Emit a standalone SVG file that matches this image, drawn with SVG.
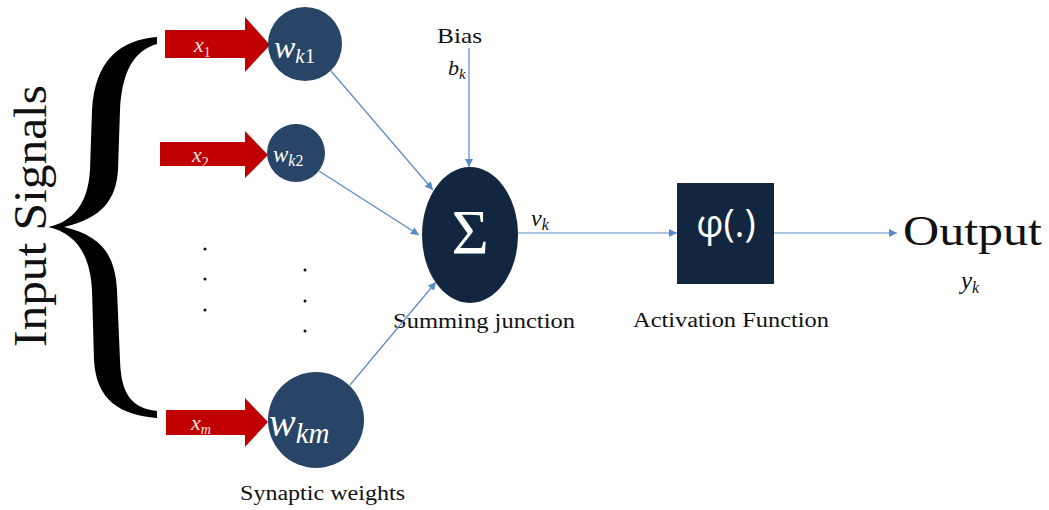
<svg xmlns="http://www.w3.org/2000/svg" width="1049" height="510" viewBox="0 0 1049 510">
  <style>
    .serif { font-family: "Liberation Serif", "DejaVu Serif", serif; fill: #111; }
    .math { font-family: "Liberation Serif", "DejaVu Serif", serif; font-style: italic; }
    .up { font-style: normal; }
    .weight { fill: #284466; }
    .dark { fill: #13263f; }
    .signal { fill: #c00000; }
    .link { stroke: #5a8ac6; stroke-width: 1.2; fill: none; marker-end: url(#tip); }
    .dot { fill: #111; }
  </style>
  <defs>
    <marker id="tip" viewBox="0 0 10 10" refX="10" refY="5" markerWidth="8" markerHeight="8" markerUnits="userSpaceOnUse" orient="auto">
      <path d="M0,0 L10,5 L0,10 Z" fill="#5a8ac6"/>
    </marker>
  </defs>
  <rect width="1049" height="510" fill="#fff"/>

  <!-- input label and brace -->
  <g id="input-signals">
    <text class="serif" font-size="46" text-anchor="middle" transform="translate(46,216) rotate(-90)" textLength="262" lengthAdjust="spacingAndGlyphs">Input Signals</text>
    <path fill="#000" d="M157,37 C120,40 95,60 92,110 L90,170 C88,205 72,222 48,227 C72,232 90,250 92,290 L94,360 C96,400 120,415 157,418 L157,411 C132,408 121,395 120,360 L117,290 C115,255 102,236 64,227 C102,218 116,200 118,170 L120,110 C122,70 135,50 157,44 Z"/>
  </g>

  <!-- input arrows -->
  <g id="x1">
    <path class="signal" d="M165,30 L245,30 L245,17 L270,45 L245,72 L245,58 L165,58 Z"/>
    <text class="math" fill="#fbe3e3" font-size="22" x="194" y="52">x<tspan class="up" font-size="14" dy="5">1</tspan></text>
  </g>
  <g id="x2">
    <path class="signal" d="M160,142 L245,142 L245,131 L268,155 L245,178 L245,166 L160,166 Z"/>
    <text class="math" fill="#fbe3e3" font-size="22" x="192" y="162">x<tspan class="up" font-size="14" dy="5">2</tspan></text>
  </g>
  <g id="xm">
    <path class="signal" d="M166,410 L245,410 L245,398 L268,422 L245,447 L245,435 L166,435 Z"/>
    <text class="math" fill="#fbe3e3" font-size="22" x="191" y="430">x<tspan font-size="14" dy="4">m</tspan></text>
  </g>

  <!-- synaptic weights -->
  <g id="wk1">
    <circle class="weight" cx="305" cy="44" r="37"/>
    <text class="math" fill="#fff" font-size="32" x="274" y="58">w<tspan font-size="21" dy="5">k</tspan><tspan class="up" font-size="21">1</tspan></text>
  </g>
  <g id="wk2">
    <circle class="weight" cx="296" cy="153" r="29"/>
    <text class="math" fill="#fff" font-size="23" x="273" y="162">w<tspan font-size="16" dy="4">k</tspan><tspan class="up" font-size="16">2</tspan></text>
  </g>
  <g id="wkm">
    <circle class="weight" cx="316" cy="420" r="48"/>
    <text class="math" fill="#fff" font-size="40" x="269" y="436">w<tspan font-size="29" dy="7">km</tspan></text>
  </g>

  <!-- ellipsis dots -->
  <g id="dots">
    <circle class="dot" cx="205" cy="249" r="1.5"/>
    <circle class="dot" cx="205" cy="279" r="1.5"/>
    <circle class="dot" cx="205" cy="310" r="1.5"/>
    <circle class="dot" cx="305" cy="270" r="1.5"/>
    <circle class="dot" cx="305" cy="301" r="1.5"/>
    <circle class="dot" cx="305" cy="331" r="1.5"/>
  </g>

  <text id="synaptic-label" class="serif" font-size="20" x="240" y="500" textLength="165" lengthAdjust="spacingAndGlyphs">Synaptic weights</text>

  <!-- bias -->
  <g id="bias">
    <text class="serif" font-size="22" x="437" y="43" textLength="45" lengthAdjust="spacingAndGlyphs">Bias</text>
    <text class="math" fill="#111" font-size="22" x="448" y="75">b<tspan font-size="15" dy="4">k</tspan></text>
  </g>

  <!-- summing junction -->
  <g id="sum">
    <ellipse class="dark" cx="470" cy="235" rx="48" ry="68"/>
    <text font-family="Liberation Serif, DejaVu Serif, serif" fill="#fff" font-size="64" x="470" y="254" text-anchor="middle">Σ</text>
    <text class="serif" font-size="20" x="393" y="328" textLength="182" lengthAdjust="spacingAndGlyphs">Summing junction</text>
  </g>

  <text id="vk" class="math" fill="#111" font-size="24" x="531" y="226">v<tspan font-size="16" dy="4">k</tspan></text>

  <!-- activation function -->
  <g id="activation">
    <rect class="dark" x="677" y="183" width="97" height="101"/>
    <text font-family="Open Sans, DejaVu Sans, sans-serif" fill="#fff" font-size="38" x="726" y="237" text-anchor="middle">φ(.)</text>
    <text class="serif" font-size="20" x="633" y="327" textLength="196" lengthAdjust="spacingAndGlyphs">Activation Function</text>
  </g>

  <!-- output -->
  <g id="output">
    <text class="serif" font-size="43" x="903" y="245" textLength="139" lengthAdjust="spacingAndGlyphs">Output</text>
    <text class="math" fill="#111" font-size="25" x="961" y="289">y<tspan font-size="16" dy="4">k</tspan></text>
  </g>

  <!-- connectors -->
  <g id="connectors">
    <path class="link" d="M331,71 L433,190"/>
    <path class="link" d="M319,171 L419,235"/>
    <path class="link" d="M350,385 L436,282"/>
    <path class="link" d="M469,48 L469,167"/>
    <path class="link" d="M518,233 L677,233"/>
    <path class="link" d="M774,233 L897,233"/>
  </g>
</svg>
